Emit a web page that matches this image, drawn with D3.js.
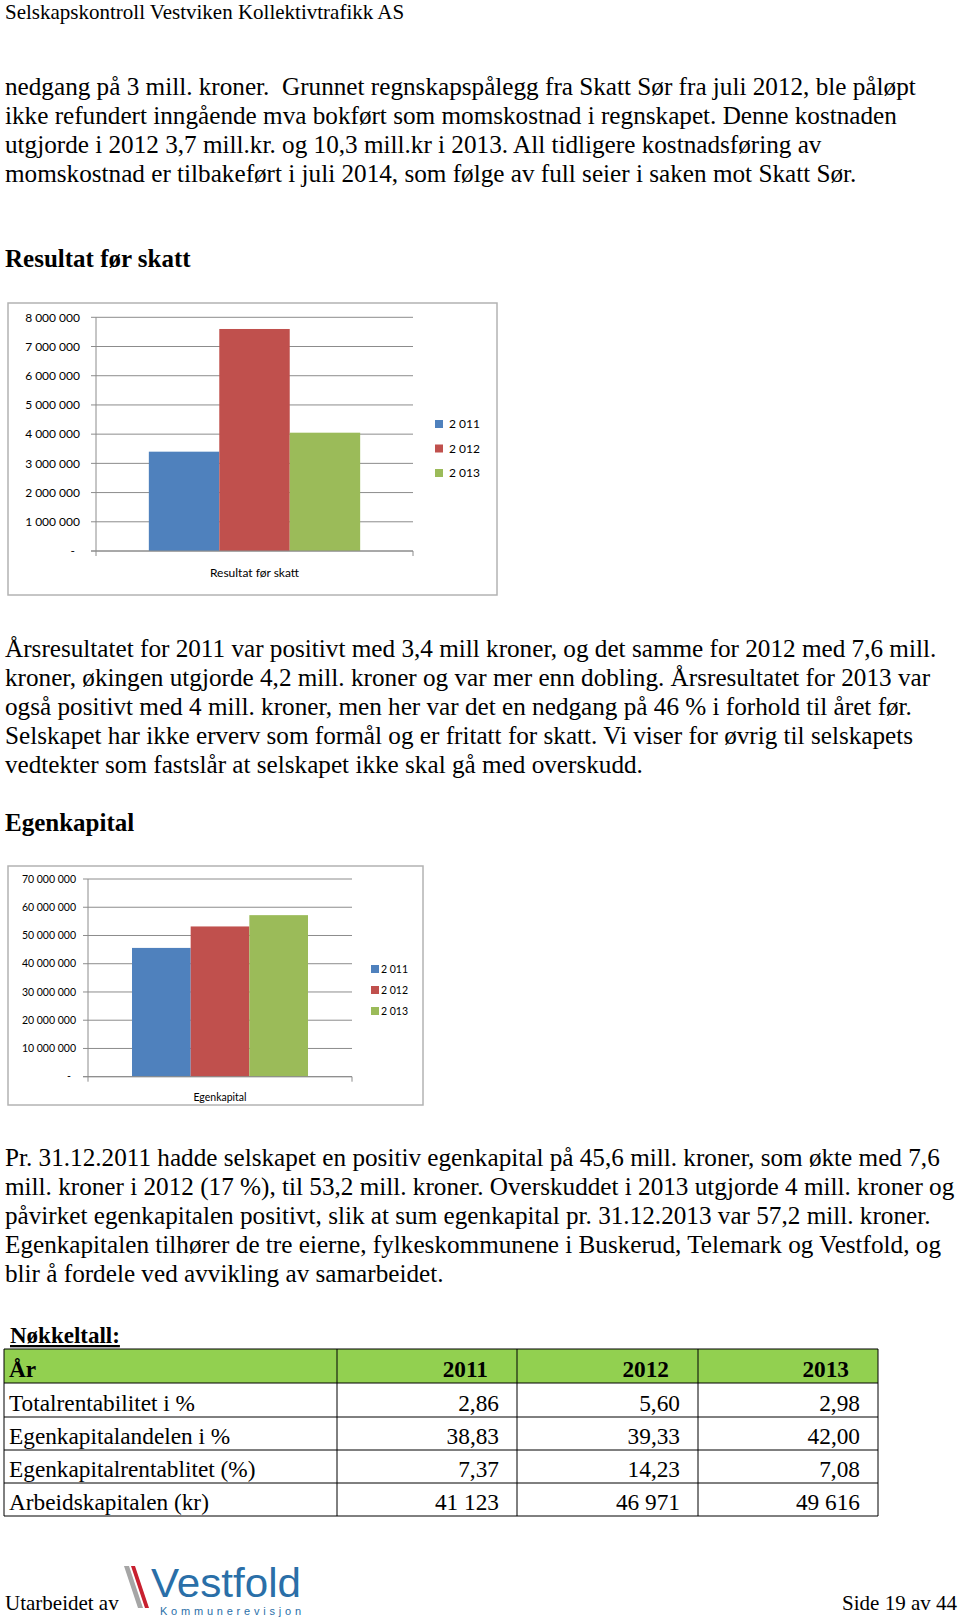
<!DOCTYPE html>
<html>
<head>
<meta charset="utf-8">
<script src="https://cdn.jsdelivr.net/npm/d3@7"></script>
<style>
  html, body { margin: 0; padding: 0; background: #fff; }
  svg { display: block; }
  .body { font-family: "Liberation Serif", "Times New Roman", serif; fill: #000; }
  .body text, text.body { white-space: pre; }
  .chart { font-family: Lato, Carlito, Calibri, sans-serif; fill: #000; }
</style>
</head>
<body>
<script>
// ---------- DATA ----------
const years = ["2 011", "2 012", "2 013"];
const resultatCategory = ["Resultat før skatt"];
const resultatValues = [3400000, 7600000, 4050000];
const resultatTicks = [0, 1000000, 2000000, 3000000, 4000000, 5000000, 6000000, 7000000, 8000000];
const egenkapitalCategory = ["Egenkapital"];
const egenkapitalValues = [45600000, 53200000, 57200000];
const egenkapitalTicks = [0, 10000000, 20000000, 30000000, 40000000, 50000000, 60000000, 70000000];
const seriesColors = ["#4F81BD", "#C0504D", "#9BBB59"];

const tableHeader = ["År", "2011", "2012", "2013"];
const tableRows = [
  ["Totalrentabilitet i %", "2,86", "5,60", "2,98"],
  ["Egenkapitalandelen i %", "38,83", "39,33", "42,00"],
  ["Egenkapitalrentablitet (%)", "7,37", "14,23", "7,08"],
  ["Arbeidskapitalen (kr)", "41 123", "46 971", "49 616"]
];

const para1 = [
  "nedgang på 3 mill. kroner.  Grunnet regnskapspålegg fra Skatt Sør fra juli 2012, ble påløpt",
  "ikke refundert inngående mva bokført som momskostnad i regnskapet. Denne kostnaden",
  "utgjorde i 2012 3,7 mill.kr. og 10,3 mill.kr i 2013. All tidligere kostnadsføring av",
  "momskostnad er tilbakeført i juli 2014, som følge av full seier i saken mot Skatt Sør."
];
const para2 = [
  "Årsresultatet for 2011 var positivt med 3,4 mill kroner, og det samme for 2012 med 7,6 mill.",
  "kroner, økingen utgjorde 4,2 mill. kroner og var mer enn dobling. Årsresultatet for 2013 var",
  "også positivt med 4 mill. kroner, men her var det en nedgang på 46 % i forhold til året før.",
  "Selskapet har ikke erverv som formål og er fritatt for skatt. Vi viser for øvrig til selskapets",
  "vedtekter som fastslår at selskapet ikke skal gå med overskudd."
];
const para3 = [
  "Pr. 31.12.2011 hadde selskapet en positiv egenkapital på 45,6 mill. kroner, som økte med 7,6",
  "mill. kroner i 2012 (17 %), til 53,2 mill. kroner. Overskuddet i 2013 utgjorde 4 mill. kroner og",
  "påvirket egenkapitalen positivt, slik at sum egenkapital pr. 31.12.2013 var 57,2 mill. kroner.",
  "Egenkapitalen tilhører de tre eierne, fylkeskommunene i Buskerud, Telemark og Vestfold, og",
  "blir å fordele ved avvikling av samarbeidet."
];

// ---------- PAGE ----------
const W = 960, H = 1617;
const svg = d3.select("body").append("svg").attr("width", W).attr("height", H);

const BODY_SIZE = 25.2, LINE = 28.9;

function paragraph(lines, x, y0) {
  const g = svg.append("g").attr("class", "body");
  g.selectAll("text").data(lines).join("text")
    .attr("x", x).attr("y", (d, i) => y0 + i * LINE)
    .attr("font-size", BODY_SIZE)
    .text(d => d);
}

// header
svg.append("text").attr("class", "body").attr("x", 5).attr("y", 19)
  .attr("font-size", 21).text("Selskapskontroll Vestviken Kollektivtrafikk AS");

paragraph(para1, 5, 95);
svg.append("text").attr("class", "body").attr("x", 5).attr("y", 267)
  .attr("font-size", 25).attr("font-weight", "bold").text("Resultat før skatt");
paragraph(para2, 5, 657);
svg.append("text").attr("class", "body").attr("x", 5).attr("y", 831)
  .attr("font-size", 25).attr("font-weight", "bold").text("Egenkapital");
paragraph(para3, 5, 1166);

// ---------- CHARTS ----------
const spaceFmt = v => v === 0 ? "-" : d3.format(",")(v).replace(/,/g, " ");

function barChart(cfg) {
  const g = svg.append("g").attr("class", "chart");
  g.append("rect").attr("x", cfg.frame[0]).attr("y", cfg.frame[1])
    .attr("width", cfg.frame[2]).attr("height", cfg.frame[3])
    .attr("fill", "#fff").attr("stroke", "#b3b3b3").attr("stroke-width", 1.5);

  const y = d3.scaleLinear().domain([0, d3.max(cfg.ticks)]).range([cfg.bottom, cfg.top]);
  const x0 = d3.scaleBand().domain(cfg.category).range([cfg.left, cfg.right]).padding(0);
  const x1 = d3.scaleBand().domain(years).range([0, x0.bandwidth()]).paddingInner(0).paddingOuter(0.75);

  // gridlines + tick marks
  g.append("g").selectAll("line").data(cfg.ticks).join("line")
    .attr("x1", cfg.left - 5).attr("x2", cfg.right)
    .attr("y1", d => y(d)).attr("y2", d => y(d))
    .attr("stroke", "#8c8c8c").attr("stroke-width", 1);

  // y axis line
  g.append("line").attr("x1", cfg.left).attr("x2", cfg.left)
    .attr("y1", cfg.top).attr("y2", cfg.bottom + 5).attr("stroke", "#8c8c8c");
  // category tick at right end
  g.append("line").attr("x1", cfg.right).attr("x2", cfg.right)
    .attr("y1", cfg.bottom).attr("y2", cfg.bottom + 5).attr("stroke", "#8c8c8c");

  // tick labels
  g.append("g").selectAll("text").data(cfg.ticks).join("text")
    .attr("x", d => d === 0 ? cfg.labelX - 5 : cfg.labelX)
    .attr("y", d => y(d)).attr("dy", "0.35em")
    .attr("text-anchor", "end").attr("font-size", cfg.fontSize)
    .text(spaceFmt);

  // bars
  const vals = cfg.values;
  g.append("g").selectAll("rect").data(years).join("rect")
    .attr("x", d => x0(cfg.category[0]) + x1(d))
    .attr("width", x1.bandwidth())
    .attr("y", (d, i) => y(vals[i]))
    .attr("height", (d, i) => y(0) - y(vals[i]))
    .attr("fill", (d, i) => seriesColors[i]);

  // baseline over bars
  g.append("line").attr("x1", cfg.left - 5).attr("x2", cfg.right)
    .attr("y1", y(0)).attr("y2", y(0)).attr("stroke", "#8c8c8c");

  // category label
  g.append("text").attr("x", x0(cfg.category[0]) + x0.bandwidth() / 2)
    .attr("y", cfg.catY).attr("text-anchor", "middle").attr("font-size", cfg.fontSize)
    .text(cfg.category[0]);

  // legend
  const lg = g.append("g");
  years.forEach((yr, i) => {
    const cy = cfg.legendY[0] + i * cfg.legendY[1];
    lg.append("rect").attr("x", cfg.legendX).attr("y", cy - 4).attr("width", 8).attr("height", 8)
      .attr("fill", seriesColors[i]);
    lg.append("text").attr("x", cfg.legendX + cfg.legendGap).attr("y", cy).attr("dy", "0.35em")
      .attr("font-size", cfg.fontSize).text(yr);
  });
}

barChart({
  frame: [8, 303, 489, 292],
  left: 96, right: 413, top: 317.3, bottom: 551,
  ticks: resultatTicks, values: resultatValues, category: resultatCategory,
  labelX: 80, fontSize: 12, catY: 577,
  legendX: 435, legendGap: 14, legendY: [424, 24.5]
});

barChart({
  frame: [8, 866, 415, 239],
  left: 88, right: 352, top: 879, bottom: 1076.7,
  ticks: egenkapitalTicks, values: egenkapitalValues, category: egenkapitalCategory,
  labelX: 76, fontSize: 10.5, catY: 1101,
  legendX: 371, legendGap: 10, legendY: [969, 21]
});

// ---------- TABLE ----------
svg.append("text").attr("class", "body").attr("x", 10).attr("y", 1343)
  .attr("font-size", 23).attr("font-weight", "bold").attr("text-decoration", "underline")
  .text("Nøkkeltall:");

const colEdges = [4, 337, 517, 698, 878];
const rowEdges = [1349, 1383, 1417, 1450, 1483, 1516];
const tg = svg.append("g").attr("class", "body");
tg.append("rect").attr("x", colEdges[0]).attr("y", rowEdges[0])
  .attr("width", colEdges[4] - colEdges[0]).attr("height", rowEdges[1] - rowEdges[0])
  .attr("fill", "#92D050");
const allRows = [tableHeader].concat(tableRows);
allRows.forEach((row, r) => {
  row.forEach((cell, c) => {
    const right = c > 0;
    tg.append("text")
      .attr("x", right ? colEdges[c + 1] - (r === 0 ? 29 : 18) : colEdges[0] + 5)
      .attr("y", rowEdges[r + 1] - 6)
      .attr("text-anchor", right ? "end" : "start")
      .attr("font-size", 23.3)
      .attr("font-weight", r === 0 ? "bold" : "normal")
      .text(cell);
  });
});
rowEdges.forEach(yy => tg.append("line").attr("x1", colEdges[0]).attr("x2", colEdges[4])
  .attr("y1", yy).attr("y2", yy).attr("stroke", "#000").attr("stroke-width", 1));
colEdges.forEach(xx => tg.append("line").attr("x1", xx).attr("x2", xx)
  .attr("y1", rowEdges[0]).attr("y2", rowEdges[rowEdges.length - 1]).attr("stroke", "#000").attr("stroke-width", 1));

// ---------- FOOTER ----------
svg.append("text").attr("class", "body").attr("x", 5).attr("y", 1610)
  .attr("font-size", 21).text("Utarbeidet av");
svg.append("text").attr("class", "body").attr("x", 957).attr("y", 1610)
  .attr("text-anchor", "end").attr("font-size", 21).text("Side 19 av 44");

const logo = svg.append("g");
logo.append("polygon").attr("points", "124,1566 129,1566 143,1608 138,1608").attr("fill", "#a6a6a6");
logo.append("polygon").attr("points", "131,1566 135,1566 149,1608 145,1608").attr("fill", "#c8202f");
logo.append("text").attr("x", 151).attr("y", 1597)
  .attr("font-family", "'Liberation Sans', Arial, sans-serif").attr("font-size", 40)
  .attr("fill", "#2a6fa8").attr("textLength", 150).attr("lengthAdjust", "spacingAndGlyphs")
  .text("Vestfold");
logo.append("text").attr("x", 160).attr("y", 1615)
  .attr("font-family", "'Liberation Sans', Arial, sans-serif").attr("font-size", 11)
  .attr("fill", "#2a6fa8").attr("textLength", 141).attr("lengthAdjust", "spacing")
  .text("Kommunerevisjon");
</script>
</body>
</html>
